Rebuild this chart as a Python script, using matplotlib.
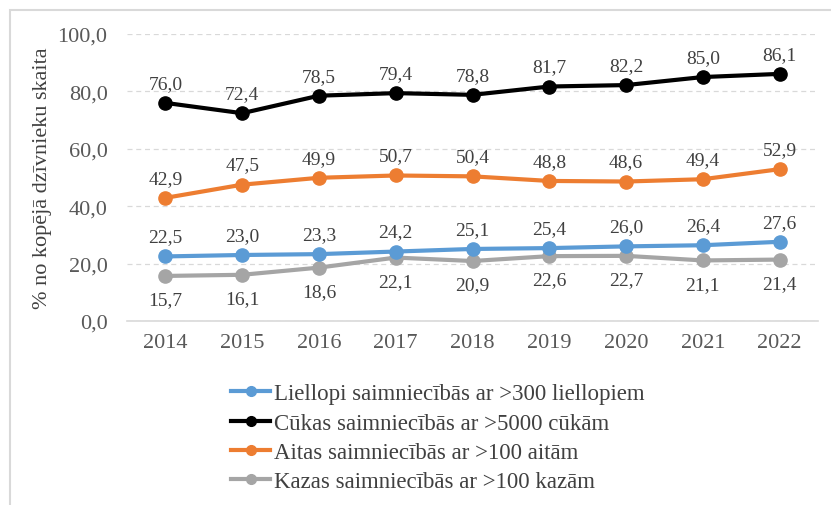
import matplotlib.pyplot as plt
from matplotlib.patches import Rectangle
from matplotlib.lines import Line2D

plt.rcParams['font.family'] = ['Liberation Serif', 'DejaVu Serif']

years = ['2014', '2015', '2016', '2017', '2018', '2019', '2020', '2021', '2022']
liellopi = [22.5, 23.0, 23.3, 24.2, 25.1, 25.4, 26.0, 26.4, 27.6]
cukas = [76.0, 72.4, 78.5, 79.4, 78.8, 81.7, 82.2, 85.0, 86.1]
aitas = [42.9, 47.5, 49.9, 50.7, 50.4, 48.8, 48.6, 49.4, 52.9]
kazas = [15.7, 16.1, 18.6, 22.1, 20.9, 22.6, 22.7, 21.1, 21.4]

labels = ['Liellopi saimniecībās ar >300 liellopiem',
          'Cūkas saimniecībās ar >5000 cūkām',
          'Aitas saimniecībās ar >100 aitām',
          'Kazas saimniecībās ar >100 kazām']
colors = ['#5b9bd5', '#000000', '#ed7d31', '#a5a5a5']
series = [liellopi, cukas, aitas, kazas]
# label above or below the point
above = [True, True, True, False]

W, H = 831, 506
fig = plt.figure(figsize=(W / 100, H / 100), dpi=100)

# chart border (only top/left visible in the crop)
fig.patches.append(Rectangle((10 / W, -0.1), 1.2, 1.1 - 11 / H, transform=fig.transFigure,
                             fill=False, edgecolor='#d9d9d9', lw=1.5))

ax = fig.add_axes([127 / W, 1 - 322 / H, (818 - 127) / W, (322 - 35) / H])
x = list(range(len(years)))

# draw order: grey, orange, black, blue on top
for i in [3, 2, 1, 0]:
    ax.plot(x, series[i], color=colors[i], lw=3, marker='o', ms=9.5, zorder=3)
    for xi, v in zip(x, series[i]):
        off = 8 if above[i] else -11
        va = 'bottom' if above[i] else 'top'
        ax.annotate(f'{v:.1f}'.replace('.', ','), (xi, v), xytext=(0, off),
                    textcoords='offset points', ha='center', va=va,
                    fontsize=14, color='#404040')

ax.set_xlim(-0.5, len(years) - 0.5)
ax.set_ylim(0, 100)
ax.set_yticks([0, 20, 40, 60, 80, 100])
ax.set_yticklabels([f'{t:.1f}'.replace('.', ',') for t in [0, 20, 40, 60, 80, 100]])
ax.set_xticks(x)
ax.set_xticklabels(years)
ax.tick_params(axis='both', length=0, labelsize=16, labelcolor='#595959')
ax.tick_params(axis='x', pad=9)
ax.tick_params(axis='y', pad=14)
ax.grid(axis='y', color='#d9d9d9', ls=(0, (4, 3)), lw=0.9)
ax.set_axisbelow(True)
for s in ['top', 'right', 'left']:
    ax.spines[s].set_visible(False)
ax.spines['bottom'].set_color('#d9d9d9')
ax.spines['bottom'].set_linewidth(1.2)
ax.set_ylabel('% no kopējā dzīvnieku skaita', fontsize=16, color='#404040', labelpad=4)

handles = [Line2D([], [], color=c, lw=3, marker='o', ms=7) for c in colors]
fig.legend(handles, labels, loc='upper left', bbox_to_anchor=(220 / W, 1 - 373 / H),
           frameon=False, fontsize=16.5, handlelength=1.7, handletextpad=0.15,
           labelspacing=0.36, labelcolor='#404040', borderpad=0)

fig.savefig('out.png', dpi=100)
